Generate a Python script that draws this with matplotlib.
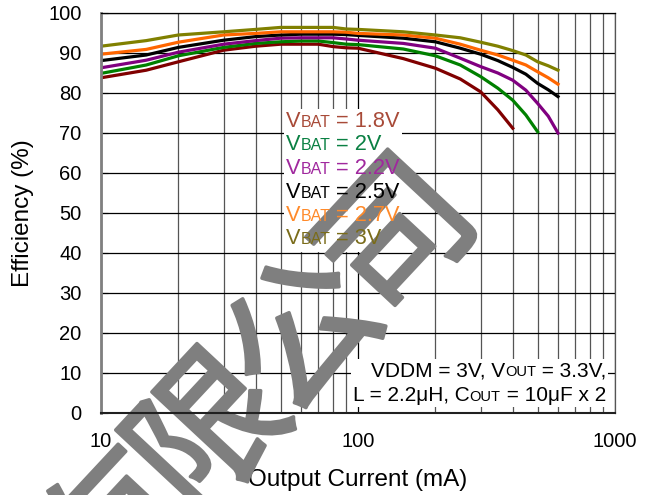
import matplotlib
matplotlib.use("Agg")
import matplotlib.pyplot as plt
import matplotlib.patheffects as pe
import numpy as np
from matplotlib.offsetbox import TextArea, HPacker, VPacker, AnnotationBbox

plt.rcParams['font.family'] = ['Liberation Sans', 'DejaVu Sans']

# output current (mA)
current = [10, 15, 20, 30, 40, 50, 60, 70, 80, 90, 100, 150, 200, 250, 300, 350, 400, 450, 500, 550, 600]

# efficiency (%) per battery voltage
eff_3v0 = [91.7, 93.1, 94.5, 95.3, 95.9, 96.4, 96.4, 96.4, 96.4, 96.0, 95.9, 95.3, 94.5, 93.8, 92.7, 91.7, 90.6, 89.5, 87.8, 86.8, 85.7]
eff_2v7 = [89.7, 90.9, 92.7, 94.5, 94.9, 95.3, 95.3, 95.3, 95.3, 95.2, 94.9, 94.5, 93.7, 92.2, 90.7, 89.5, 88.2, 87.0, 85.3, 83.8, 82.2]
eff_2v5 = [88.1, 89.5, 91.4, 93.2, 94.1, 94.5, 94.7, 94.7, 94.7, 94.6, 94.4, 93.7, 92.8, 91.2, 89.7, 88.1, 86.4, 84.7, 82.4, 80.8, 79.1]
eff_2v2 = [86.3, 88.2, 90.2, 92.2, 93.1, 93.7, 93.8, 93.8, 93.8, 93.5, 93.2, 92.4, 91.2, 88.7, 86.6, 85.0, 83.2, 80.7, 77.4, 74.2, 70.0]
eff_2v0 = [84.9, 87.0, 89.3, 91.4, 92.4, 92.8, 93.0, 93.0, 92.6, 92.2, 92.1, 91.0, 89.3, 87.0, 84.1, 81.2, 78.2, 74.5, 70.3]
eff_1v8 = [83.8, 85.7, 87.8, 90.7, 91.7, 92.2, 92.2, 92.2, 91.6, 91.3, 91.2, 88.6, 86.2, 83.5, 80.3, 75.8, 71.2]

labels = ["1.8V", "2V", "2.2V", "2.5V", "2.7V", "3V"]
series = [eff_1v8, eff_2v0, eff_2v2, eff_2v5, eff_2v7, eff_3v0]
line_colors = ["#800000", "#008000", "#800080", "#000000", "#ff6600", "#808000"]
text_colors = ["#a84a38", "#0a8043", "#a0289e", "#000000", "#ff8a2a", "#7a6c1a"]

fig = plt.figure(figsize=(6.54, 4.95), dpi=100)
ax = fig.add_axes([101/654, 82/495, 514/654, 400/495])

for y, c in zip(series, line_colors):
    ax.plot(current[:len(y)], y, color=c, lw=2.3, zorder=2)

ax.set_xscale('log')
ax.set_xlim(10, 1000)
ax.set_ylim(0, 100)
ax.set_yticks(np.arange(0, 101, 10))
ax.set_xticks([10, 100, 1000])
ax.set_xticklabels(["10", "100", "1000"])
ax.minorticks_on()
ax.yaxis.set_minor_locator(matplotlib.ticker.NullLocator())
ax.grid(True, which='major', color='black', lw=0.9)
ax.grid(True, which='minor', axis='x', color='#555555', lw=0.9)
ax.tick_params(axis='x', which='both', length=0, labelsize=14.5, pad=14)
ax.tick_params(axis='y', direction='in', length=5, labelsize=14.5, pad=14)

ax.spines['top'].set_color('black')
ax.spines['top'].set_linewidth(0.9)
ax.spines['right'].set_color('#555555')
ax.spines['right'].set_linewidth(0.9)
ax.spines['left'].set_color('#808080')
ax.spines['left'].set_linewidth(2)
ax.spines['bottom'].set_color('#202020')
ax.spines['bottom'].set_linewidth(1.5)

ax.set_xlabel("Output Current (mA)", fontsize=17.5)
ax.set_ylabel("Efficiency (%)", fontsize=17.5)
ax.xaxis.set_label_coords(0.5, -0.14)
ax.yaxis.set_label_coords(-0.13, 0.5)


def sub_row(parts, color, size, subsize):
    # parts: list of (text, is_subscript)
    kids = []
    for t, small in parts:
        kids.append(TextArea(t, textprops=dict(color=color, fontsize=subsize if small else size)))
    return HPacker(children=kids, align='baseline', pad=0, sep=0)


def legend_box(visible):
    rows = []
    for lab, tc in zip(labels, text_colors):
        col = tc if visible else (1, 1, 1, 0)
        rows.append(sub_row([("V", False), ("BAT", True), (" = " + lab, False)], col, 15.7, 11.5))
    return VPacker(children=rows, align='left', pad=0, sep=1.8)


def note_box(visible):
    col = 'black' if visible else (1, 1, 1, 0)
    r1 = sub_row([("VDDM = 3V, V", False), ("OUT", True), (" = 3.3V,", False)], col, 15, 10.5)
    r2 = sub_row([("L = 2.2\u03bcH, C", False), ("OUT", True), (" = 10\u03bcF x 2", False)], col, 15, 10.5)
    return VPacker(children=[r1, r2], align='right', pad=0, sep=4)


# white backgrounds (below watermark) then text (above watermark)
for visible, z in [(False, 2.2), (True, 3)]:
    ab = AnnotationBbox(legend_box(visible), ((286 - 101) / 514, (413 - 111) / 400),
                        xycoords='axes fraction', box_alignment=(0, 1), frameon=not visible,
                        pad=0.15, bboxprops=dict(fc='white', ec='none'))
    ab.set_zorder(z)
    ax.add_artist(ab)
    ab2 = AnnotationBbox(note_box(visible), ((606 - 101) / 514, (413 - 405) / 400),
                         xycoords='axes fraction', box_alignment=(1, 0), frameon=not visible,
                         pad=0.15, bboxprops=dict(fc='white', ec='none'))
    ab2.set_zorder(z)
    ax.add_artist(ab2)

# watermark
wm_chars = ["有", "限", "公", "司"]
cx, cy = 308, 340
for i, ch in enumerate(wm_chars):
    k = i - 2
    px, py = cx + 94 * k, cy - 98 * k
    ax.text(px / 654, 1 - py / 495, ch, transform=fig.transFigure, fontsize=108,
            fontweight='normal', color='#7f7f7f', family=['Noto Sans CJK SC'],
            ha='center', va='center', rotation=47, rotation_mode='anchor',
            clip_on=False, zorder=2.5,
            path_effects=[pe.withStroke(linewidth=2.5, foreground='#7f7f7f')])

fig.savefig("out.png", dpi=100)
